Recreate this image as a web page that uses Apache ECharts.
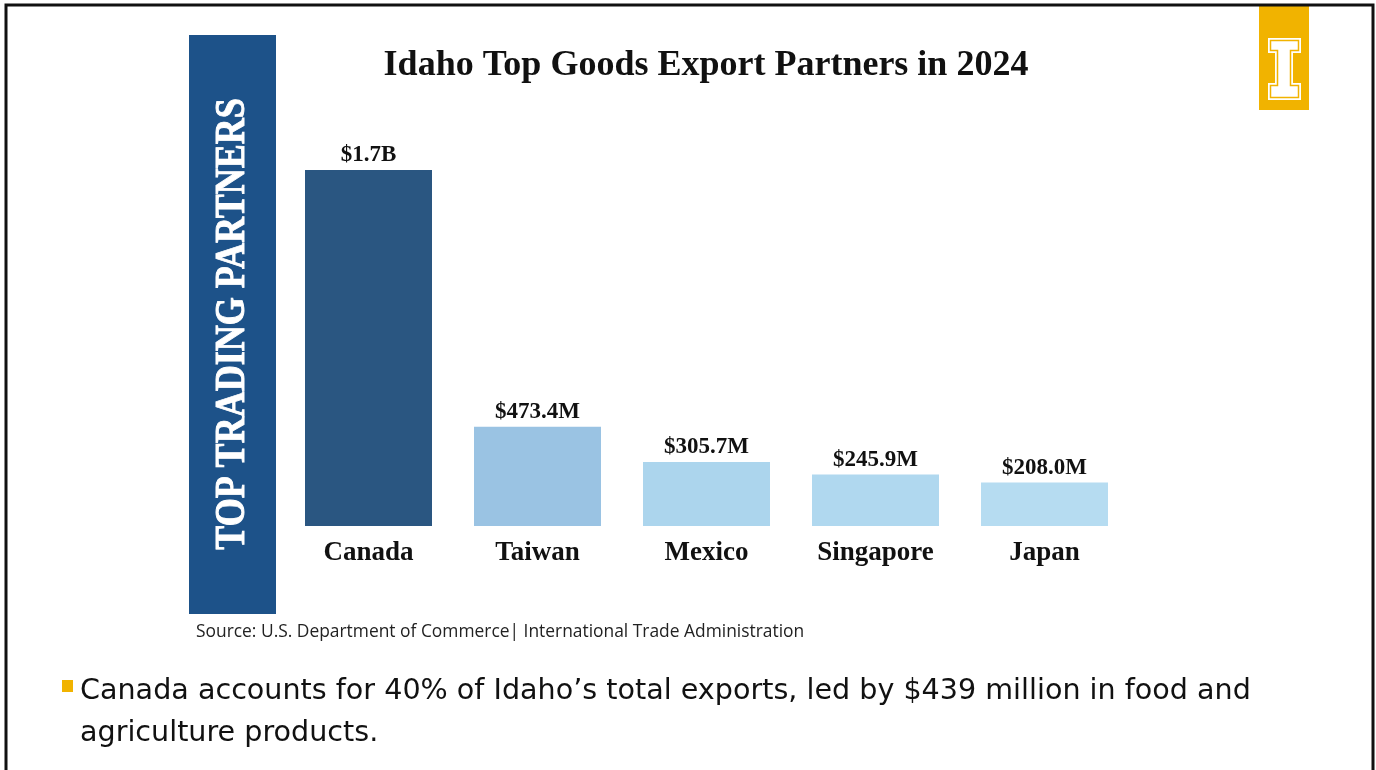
<!DOCTYPE html>
<html>
<head>
<meta charset="utf-8">
<script src="https://cdn.jsdelivr.net/npm/echarts@6/dist/echarts.min.js"></script>
<style>
html,body{margin:0;padding:0;background:#fff;}
#chart{width:1376px;height:770px;}
</style>
</head>
<body>
<div id="chart"></div>
<script>
var categories = ['Canada', 'Taiwan', 'Mexico', 'Singapore', 'Japan'];
var values = [1700, 473.4, 305.7, 245.9, 208.0];
var valueLabels = ['$1.7B', '$473.4M', '$305.7M', '$245.9M', '$208.0M'];
var barColors = ['#2a5681', '#9ac3e3', '#acd5ed', '#b0d8ef', '#b6dcf1'];

var titleText = 'Idaho Top Goods Export Partners in 2024';
var bannerText = 'TOP TRADING PARTNERS';
var sourceText = 'Source: U.S. Department of Commerce| International Trade Administration';
var bulletLines = ['Canada accounts for 40% of Idaho\u2019s total exports, led by $439 million in food and', 'agriculture products.'];

var chart = echarts.init(document.getElementById('chart'));
var serif = '"Liberation Serif", "DejaVu Serif", serif';

var option = {
  backgroundColor: '#ffffff',
  animation: false,
  grid: { left: 284, width: 845, top: 170, bottom: 244, containLabel: false },
  xAxis: {
    type: 'category',
    data: categories,
    axisLine: { show: false },
    axisTick: { show: false },
    axisLabel: { fontFamily: serif, fontWeight: 'bold', fontSize: 27, color: '#111', margin: 14 }
  },
  yAxis: { type: 'value', min: 0, max: 1700, show: false, splitLine: { show: false } },
  series: [{
    type: 'bar',
    barWidth: 127,
    data: values.map(function (v, i) { return { value: v, itemStyle: { color: barColors[i] } }; }),
    label: {
      show: true,
      position: 'top',
      distance: 3,
      fontFamily: serif,
      fontWeight: 'bold',
      fontSize: 23,
      color: '#111',
      formatter: function (p) { return valueLabels[p.dataIndex]; }
    }
  }],
  graphic: [
    { type: 'rect', shape: { x: 6, y: 5, width: 1367, height: 800 }, style: { fill: 'none', stroke: '#111', lineWidth: 3 }, z: 10 },
    { type: 'rect', shape: { x: 189, y: 35, width: 87, height: 579 }, style: { fill: '#1d5289' }, z: 1 },
    { type: 'text', x: 233, y: 324, rotation: Math.PI / 2, scaleY: 1.15, style: { text: bannerText, fill: '#fff', stroke: '#fff', lineWidth: 0.8, font: 'bold 36px ' + serif, textAlign: 'center', textVerticalAlign: 'middle' }, z: 2 },
    { type: 'text', x: 706, y: 66, style: { text: titleText, fill: '#111', font: 'bold 36px ' + serif, textAlign: 'center', textVerticalAlign: 'middle' }, z: 2 },
    { type: 'text', x: 196, y: 632, style: { text: sourceText, fill: '#222', font: '17.4px "Open Sans", sans-serif', textAlign: 'left', textVerticalAlign: 'middle' }, z: 2 },
    { type: 'rect', shape: { x: 62, y: 680, width: 11, height: 12 }, style: { fill: '#f1b300' }, z: 2 },
    { type: 'text', x: 80, y: 692, style: { text: bulletLines[0], fill: '#111', font: '28.6px "DejaVu Sans", sans-serif', textAlign: 'left', textVerticalAlign: 'middle' }, z: 2 },
    { type: 'text', x: 80, y: 734, style: { text: bulletLines[1], fill: '#111', font: '28.6px "DejaVu Sans", sans-serif', textAlign: 'left', textVerticalAlign: 'middle' }, z: 2 },
    { type: 'rect', shape: { x: 1259, y: 5, width: 50, height: 105 }, style: { fill: '#f1b300' }, z: 3 },
    { type: 'polygon', shape: { points: [[1268,38],[1301,38],[1301,53],[1293,53],[1293,83],[1301,83],[1301,100],[1268,100],[1268,83],[1275,83],[1275,53],[1268,53]] }, style: { fill: '#fff' }, z: 4 },
    { type: 'polygon', shape: { points: [[1270.5,40.5],[1298.5,40.5],[1298.5,50.5],[1290.5,50.5],[1290.5,85.5],[1298.5,85.5],[1298.5,97.5],[1270.5,97.5],[1270.5,85.5],[1277.5,85.5],[1277.5,50.5],[1270.5,50.5]] }, style: { fill: '#fff', stroke: '#f1b300', lineWidth: 1.5 }, z: 5 }
  ]
};
chart.setOption(option);
</script>
</body>
</html>
